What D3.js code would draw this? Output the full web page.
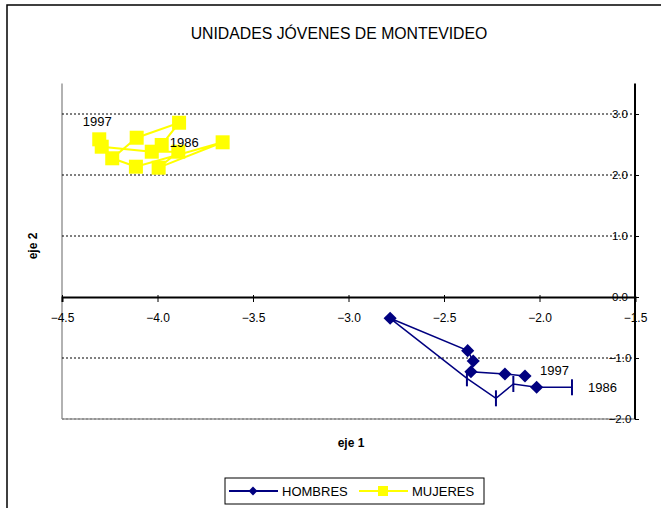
<!DOCTYPE html>
<html><head><meta charset="utf-8">
<script src="https://cdn.jsdelivr.net/npm/d3@7"></script>
<style>body{margin:0;background:#fff}svg{display:block;font-family:"Liberation Sans",Arial,sans-serif}</style>
</head><body><svg id="c" width="661" height="508"></svg>
<script>
const title = "UNIDADES JÓVENES DE MONTEVIDEO";
const seriesNames = ["HOMBRES", "MUJERES"];
const xTicks = [-4.5, -4.0, -3.5, -3.0, -2.5, -2.0, -1.5];
const yTicks = [-2.0, -1.0, 0.0, 1.0, 2.0, 3.0];
const gridValues = [-1.0, 1.0, 2.0, 3.0];
// HOMBRES, 1986 -> 1997
const hombresX = [-1.830, -2.015, -2.137, -2.228, -2.380, -2.782, -2.376, -2.347, -2.359, -2.181, -2.076];
const hombresY = [-1.480, -1.480, -1.426, -1.661, -1.333, -0.349, -0.880, -1.049, -1.225, -1.262, -1.295];
const hombresBarIdx = [0, 2, 3, 4];
// MUJERES, 1986 -> 1997
const mujeresX = [-3.978, -3.887, -4.109, -4.237, -4.113, -3.659, -3.994, -3.891, -4.030, -4.292, -4.305];
const mujeresY = [2.492, 2.857, 2.611, 2.274, 2.136, 2.536, 2.120, 2.382, 2.382, 2.464, 2.585];
const endLabels = ["1986", "1997"];

const svg = d3.select("#c");
const L = 62, R = 635, T = 83.5, B = 419;
const x = d3.scaleLinear().domain([-4.5, -1.5]).range([L, R]);
const y = d3.scaleLinear().domain([-2, 3.5]).range([B, T]);
const navy = "#000080", yel = "#FFFF00";

// outer frame
svg.append("rect").attr("x", 7).attr("y", 5).attr("width", 660).attr("height", 520)
  .attr("fill", "none").attr("stroke", "#000").attr("stroke-width", 1.5);

svg.append("text").attr("x", 339).attr("y", 39).attr("text-anchor", "middle")
  .attr("font-size", 15.8).text(title);

// plot area border (left & bottom gray)
svg.append("line").attr("x1", L).attr("x2", L).attr("y1", T).attr("y2", B).attr("stroke", "#999").attr("stroke-width", 1.5);
svg.append("line").attr("x1", L).attr("x2", R).attr("y1", B).attr("y2", B).attr("stroke", "#999").attr("stroke-width", 1.5);

// gridlines
svg.append("g").selectAll("line").data(gridValues).join("line")
  .attr("x1", L).attr("x2", R).attr("y1", d => y(d)).attr("y2", d => y(d))
  .attr("stroke", "#000").attr("stroke-width", 1).attr("stroke-dasharray", "2,2");
svg.append("line").attr("x1", L).attr("x2", R).attr("y1", y(-2)).attr("y2", y(-2))
  .attr("stroke", "#777").attr("stroke-width", 1).attr("stroke-dasharray", "2,2");

// x axis at y=0
const xAx = svg.append("g").attr("transform", `translate(0,${y(0)})`)
  .call(d3.axisBottom(x).tickValues(xTicks).tickFormat(d3.format(".1f")).tickSize(5).tickPadding(11));
xAx.select(".domain").attr("stroke", "#000").attr("stroke-width", 2);
xAx.selectAll("text").attr("font-size", 12).attr("fill", "#000").attr("font-family", "Liberation Sans, Arial");
xAx.selectAll(".tick line").attr("y1", -2);

// y axis at right (x=-1.5)
const yAx = svg.append("g").attr("transform", `translate(${R},0)`)
  .call(d3.axisRight(y).tickValues(yTicks).tickFormat(d3.format(".1f")).tickSize(4).tickPadding(-26));
yAx.select(".domain").attr("stroke", "#000").attr("stroke-width", 2).attr("d", `M0,${T}V${B}`);
yAx.selectAll("text").attr("font-size", 11.5).attr("fill", "#000").attr("text-anchor", "middle").attr("dx", 0)
  .attr("x", -15).attr("font-family", "Liberation Sans, Arial");

// axis titles
svg.append("text").attr("x", 351).attr("y", 447).attr("text-anchor", "middle")
  .attr("font-size", 12).attr("font-weight", "bold").text("eje 1");
svg.append("text").attr("transform", "translate(37,246) rotate(-90)").attr("text-anchor", "middle")
  .attr("font-size", 12).attr("font-weight", "bold").text("eje 2");

const line = d3.line().x(d => x(d[0])).y(d => y(d[1]));
const muj = mujeresX.map((v, i) => [v, mujeresY[i]]);
const hom = hombresX.map((v, i) => [v, hombresY[i]]);

// MUJERES
svg.append("path").datum(muj).attr("d", line).attr("fill", "none").attr("stroke", yel).attr("stroke-width", 2);
svg.append("g").selectAll("rect").data(muj).join("rect")
  .attr("x", d => x(d[0]) - 7).attr("y", d => y(d[1]) - 7).attr("width", 14).attr("height", 14).attr("fill", yel);

// HOMBRES
svg.append("path").datum(hom).attr("d", line).attr("fill", "none").attr("stroke", navy).attr("stroke-width", 1.5);
const diamond = d3.symbol().type(d3.symbolDiamond2).size(110);
svg.append("g").selectAll("path").data(hom.filter((d, i) => !hombresBarIdx.includes(i))).join("path")
  .attr("d", diamond).attr("transform", d => `translate(${x(d[0])},${y(d[1])})`).attr("fill", navy);
svg.append("g").selectAll("line").data(hombresBarIdx.map(i => hom[i])).join("line")
  .attr("x1", d => x(d[0])).attr("x2", d => x(d[0])).attr("y1", d => y(d[1]) - 8).attr("y2", d => y(d[1]) + 8)
  .attr("stroke", navy).attr("stroke-width", 2);

// year labels
const lab = (px, py, t, anchor) => svg.append("text").attr("x", px).attr("y", py).attr("text-anchor", anchor || "start")
  .attr("font-size", 13).text(t);
lab(x(mujeresX[0]) + 8, y(mujeresY[0]) + 2, endLabels[0]);
lab(x(mujeresX[mujeresX.length - 1]) - 2, y(mujeresY[mujeresY.length - 1]) - 13, endLabels[1], "middle");
lab(x(hombresX[0]) + 16, y(hombresY[0]) + 5, endLabels[0]);
lab(x(hombresX[hombresX.length - 1]) + 15, y(hombresY[hombresY.length - 1]) - 1, endLabels[1]);

// legend
svg.append("rect").attr("x", 225).attr("y", 478).attr("width", 259).attr("height", 26)
  .attr("fill", "#fff").attr("stroke", "#000").attr("stroke-width", 1);
const lg = [{n: seriesNames[0], c: navy, x0: 229}, {n: seriesNames[1], c: yel, x0: 359}];
lg.forEach((d, i) => {
  svg.append("line").attr("x1", d.x0).attr("x2", d.x0 + 49).attr("y1", 491).attr("y2", 491)
    .attr("stroke", d.c).attr("stroke-width", 2);
  if (i === 0) svg.append("path").attr("d", d3.symbol().type(d3.symbolDiamond2).size(50)())
    .attr("transform", `translate(${d.x0 + 24},491)`).attr("fill", d.c);
  else svg.append("rect").attr("x", d.x0 + 19).attr("y", 486).attr("width", 10).attr("height", 10).attr("fill", d.c);
  svg.append("text").attr("x", d.x0 + 53).attr("y", 496).attr("font-size", 13).text(d.n);
});
</script></body></html>
